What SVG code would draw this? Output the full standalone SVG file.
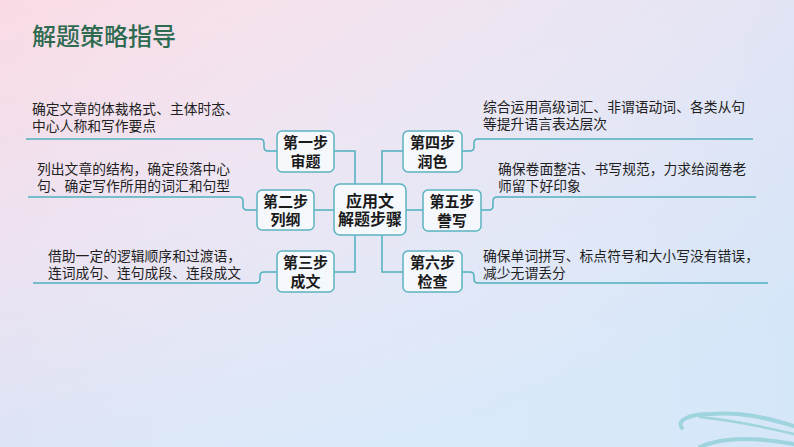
<svg xmlns="http://www.w3.org/2000/svg" width="794" height="447" viewBox="0 0 794 447">
<defs>
<linearGradient id="bg" x1="0" y1="0" x2="0.55" y2="1">
<stop offset="0" stop-color="#fadbe5"/>
<stop offset="0.45" stop-color="#ece2f1"/>
<stop offset="1" stop-color="#d2e6f9"/>
</linearGradient>
<linearGradient id="bg2" x1="0" y1="0" x2="1" y2="0">
<stop offset="0" stop-color="#ffffff" stop-opacity="0"/>
<stop offset="1" stop-color="#d6e6f8" stop-opacity="0.5"/>
</linearGradient>
<style>
.box{fill:#f7fafd;fill-opacity:0.85;stroke:#5cb3c1;stroke-width:1.5}
.bt{font-family:"Liberation Sans","Noto Sans CJK SC",sans-serif;font-size:15px;font-weight:bold;fill:#1a1a1a;text-anchor:middle}
.ct{font-family:"Liberation Sans","Noto Sans CJK SC",sans-serif;font-size:16px;font-weight:bold;fill:#1a1a1a;text-anchor:middle}
.tx{font-family:"Liberation Sans","Noto Sans CJK SC",sans-serif;font-size:13.8px;fill:#1f1f1f}
.ln{fill:none;stroke:#4fb0bf;stroke-width:1.5}
.wave{fill:none;stroke:#9fd4de;stroke-linecap:round}
</style>
</defs>
<rect width="794" height="447" fill="url(#bg)"/>
<rect width="794" height="447" fill="url(#bg2)"/>
<g id="waves">
<path class="wave" stroke-width="4" d="M682,428 C676,420 690,414 710,414 C740,412 760,416 794,426"/>
<path class="wave" stroke-width="2.5" d="M700,417 C730,420 760,426 794,434"/>
<path class="wave" stroke-width="4" d="M700,447 C720,438 750,436 794,444"/>
</g>
<text x="32" y="45" font-family="'Liberation Sans','Noto Sans CJK SC',sans-serif" font-size="24" font-weight="500" fill="#2e6b50">解题策略指导</text>
<g id="connectors">
<path class="ln" d="M334,151 H355 V184"/>
<path class="ln" d="M403,151 H382 V184"/>
<path class="ln" d="M314,210 H334"/>
<path class="ln" d="M406,210 H423"/>
<path class="ln" d="M355,235 V272 H334"/>
<path class="ln" d="M382,235 V272 H403"/>
<path class="ln" d="M26,139 H260 Q264,139 264,143 V147 Q264,151 268,151 H277"/>
<path class="ln" d="M28,197 H239 Q243,197 243,201 V206 Q243,210 247,210 H257"/>
<path class="ln" d="M33,283 H256 Q260,283 260,279 V276 Q260,272 264,272 H277"/>
<path class="ln" d="M462,151 H470 Q474,151 474,147 V143 Q474,139 478,139 H753"/>
<path class="ln" d="M481,210 H489 Q493,210 493,206 V201 Q493,197 497,197 H756"/>
<path class="ln" d="M462,272 H470 Q474,272 474,276 V279 Q474,283 478,283 H768"/>
</g>
<g id="center">
<rect class="box" x="334" y="184" width="72" height="51" rx="6"/>
<text class="ct" x="370" y="207">应用文</text>
<text class="ct" x="370" y="225">解题步骤</text>
</g>
<g id="step1">
<rect class="box" x="277" y="131" width="57" height="41" rx="5"/>
<text class="bt" x="305.5" y="148">第一步</text>
<text class="bt" x="305.5" y="167">审题</text>
</g>
<g id="step2">
<rect class="box" x="257" y="190" width="57" height="40" rx="5"/>
<text class="bt" x="285.5" y="207">第二步</text>
<text class="bt" x="285.5" y="225">列纲</text>
</g>
<g id="step3">
<rect class="box" x="277" y="251" width="57" height="41" rx="5"/>
<text class="bt" x="305.5" y="268">第三步</text>
<text class="bt" x="305.5" y="287">成文</text>
</g>
<g id="step4">
<rect class="box" x="403" y="131" width="59" height="41" rx="5"/>
<text class="bt" x="432.5" y="148">第四步</text>
<text class="bt" x="432.5" y="167">润色</text>
</g>
<g id="step5">
<rect class="box" x="423" y="190" width="58" height="41" rx="5"/>
<text class="bt" x="452" y="207">第五步</text>
<text class="bt" x="452" y="226">誊写</text>
</g>
<g id="step6">
<rect class="box" x="403" y="251" width="59" height="41" rx="5"/>
<text class="bt" x="432.5" y="268">第六步</text>
<text class="bt" x="432.5" y="287">检查</text>
</g>
<g id="desc1">
<text class="tx" x="32" y="114">确定文章的体裁格式、主体时态、</text>
<text class="tx" x="32" y="131">中心人称和写作要点</text>
</g>
<g id="desc2">
<text class="tx" x="37" y="174">列出文章的结构，确定段落中心</text>
<text class="tx" x="37" y="191">句、确定写作所用的词汇和句型</text>
</g>
<g id="desc3">
<text class="tx" x="48" y="261">借助一定的逻辑顺序和过渡语，</text>
<text class="tx" x="48" y="278">连词成句、连句成段、连段成文</text>
</g>
<g id="desc4">
<text class="tx" x="483" y="112">综合运用高级词汇、非谓语动词、各类从句</text>
<text class="tx" x="483" y="129">等提升语言表达层次</text>
</g>
<g id="desc5">
<text class="tx" x="498" y="174">确保卷面整洁、书写规范，力求给阅卷老</text>
<text class="tx" x="498" y="191">师留下好印象</text>
</g>
<g id="desc6">
<text class="tx" x="483" y="261">确保单词拼写、标点符号和大小写没有错误，</text>
<text class="tx" x="483" y="278">减少无谓丢分</text>
</g>
</svg>
